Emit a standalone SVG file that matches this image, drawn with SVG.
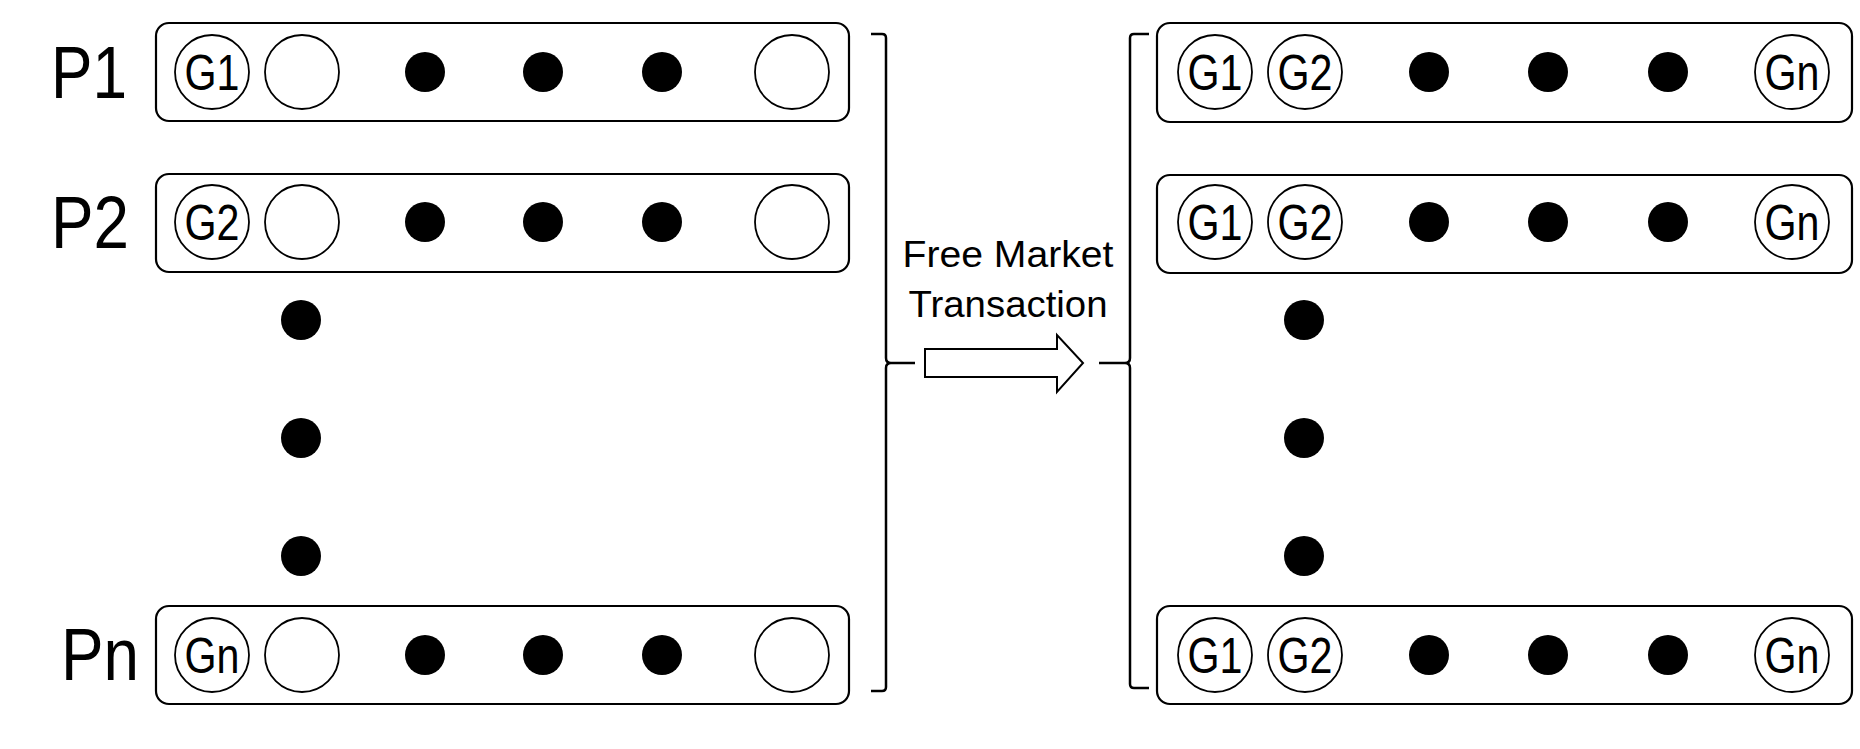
<svg xmlns="http://www.w3.org/2000/svg" width="1860" height="749" viewBox="0 0 1860 749">
<style>
.box{fill:#fff;stroke:#000;stroke-width:2.2}
.c{fill:#fff;stroke:#000;stroke-width:1.8}
.d{fill:#000}
.g{font-family:"Liberation Sans",Arial,sans-serif;font-size:50px;fill:#000;text-anchor:middle}
.p{font-family:"Liberation Sans",Arial,sans-serif;font-size:75px;fill:#000}
.t{font-family:"Liberation Sans",Arial,sans-serif;font-size:37px;fill:#000;text-anchor:middle}
.br{fill:none;stroke:#000;stroke-width:2.5}
</style>
<g id="label-p1"><text class="p" x="51" y="98" textLength="76" lengthAdjust="spacingAndGlyphs">P1</text></g>
<g id="label-p2"><text class="p" x="51" y="248" textLength="78" lengthAdjust="spacingAndGlyphs">P2</text></g>
<g id="label-pn"><text class="p" x="61" y="680" textLength="78" lengthAdjust="spacingAndGlyphs">Pn</text></g>

<g id="left-row1">
<rect class="box" x="156" y="23" width="693" height="98" rx="13"/>
<circle class="c" cx="212" cy="72" r="37"/>
<text class="g" x="212" y="90" textLength="55" lengthAdjust="spacingAndGlyphs">G1</text>
<circle class="c" cx="302" cy="72" r="37"/>
<circle class="d" cx="425" cy="72" r="20"/>
<circle class="d" cx="543" cy="72" r="20"/>
<circle class="d" cx="662" cy="72" r="20"/>
<circle class="c" cx="792" cy="72" r="37"/>
</g>
<g id="left-row2">
<rect class="box" x="156" y="174" width="693" height="98" rx="13"/>
<circle class="c" cx="212" cy="222" r="37"/>
<text class="g" x="212" y="240" textLength="55" lengthAdjust="spacingAndGlyphs">G2</text>
<circle class="c" cx="302" cy="222" r="37"/>
<circle class="d" cx="425" cy="222" r="20"/>
<circle class="d" cx="543" cy="222" r="20"/>
<circle class="d" cx="662" cy="222" r="20"/>
<circle class="c" cx="792" cy="222" r="37"/>
</g>
<g id="left-vdots">
<circle class="d" cx="301" cy="320" r="20"/>
<circle class="d" cx="301" cy="438" r="20"/>
<circle class="d" cx="301" cy="556" r="20"/>
</g>
<g id="left-rown">
<rect class="box" x="156" y="606" width="693" height="98" rx="13"/>
<circle class="c" cx="212" cy="655" r="37"/>
<text class="g" x="212" y="673" textLength="55" lengthAdjust="spacingAndGlyphs">Gn</text>
<circle class="c" cx="302" cy="655" r="37"/>
<circle class="d" cx="425" cy="655" r="20"/>
<circle class="d" cx="543" cy="655" r="20"/>
<circle class="d" cx="662" cy="655" r="20"/>
<circle class="c" cx="792" cy="655" r="37"/>
</g>

<g id="right-row1">
<rect class="box" x="1157" y="23" width="695" height="99" rx="13"/>
<circle class="c" cx="1215" cy="72" r="37"/>
<text class="g" x="1215" y="90" textLength="55" lengthAdjust="spacingAndGlyphs">G1</text>
<circle class="c" cx="1305" cy="72" r="37"/>
<text class="g" x="1305" y="90" textLength="55" lengthAdjust="spacingAndGlyphs">G2</text>
<circle class="d" cx="1429" cy="72" r="20"/>
<circle class="d" cx="1548" cy="72" r="20"/>
<circle class="d" cx="1668" cy="72" r="20"/>
<circle class="c" cx="1792" cy="72" r="37"/>
<text class="g" x="1792" y="90" textLength="55" lengthAdjust="spacingAndGlyphs">Gn</text>
</g>
<g id="right-row2">
<rect class="box" x="1157" y="175" width="695" height="98" rx="13"/>
<circle class="c" cx="1215" cy="222" r="37"/>
<text class="g" x="1215" y="240" textLength="55" lengthAdjust="spacingAndGlyphs">G1</text>
<circle class="c" cx="1305" cy="222" r="37"/>
<text class="g" x="1305" y="240" textLength="55" lengthAdjust="spacingAndGlyphs">G2</text>
<circle class="d" cx="1429" cy="222" r="20"/>
<circle class="d" cx="1548" cy="222" r="20"/>
<circle class="d" cx="1668" cy="222" r="20"/>
<circle class="c" cx="1792" cy="222" r="37"/>
<text class="g" x="1792" y="240" textLength="55" lengthAdjust="spacingAndGlyphs">Gn</text>
</g>
<g id="right-vdots">
<circle class="d" cx="1304" cy="320" r="20"/>
<circle class="d" cx="1304" cy="438" r="20"/>
<circle class="d" cx="1304" cy="556" r="20"/>
</g>
<g id="right-rown">
<rect class="box" x="1157" y="606" width="695" height="98" rx="13"/>
<circle class="c" cx="1215" cy="655" r="37"/>
<text class="g" x="1215" y="673" textLength="55" lengthAdjust="spacingAndGlyphs">G1</text>
<circle class="c" cx="1305" cy="655" r="37"/>
<text class="g" x="1305" y="673" textLength="55" lengthAdjust="spacingAndGlyphs">G2</text>
<circle class="d" cx="1429" cy="655" r="20"/>
<circle class="d" cx="1548" cy="655" r="20"/>
<circle class="d" cx="1668" cy="655" r="20"/>
<circle class="c" cx="1792" cy="655" r="37"/>
<text class="g" x="1792" y="673" textLength="55" lengthAdjust="spacingAndGlyphs">Gn</text>
</g>

<g id="connectors">
<path class="br" d="M871,34 L882,34 Q886,34 886,38 L886,358 Q886,363 891,363 L915,363 M891,363 Q886,363 886,368 L886,687 Q886,691 882,691 L871,691"/>
<path class="br" d="M1149,34 L1134,34 Q1130,34 1130,38 L1130,358 Q1130,363 1125,363 L1099,363 M1125,363 Q1130,363 1130,368 L1130,684 Q1130,688 1134,688 L1149,688"/>
<polygon points="925,349 1057,349 1057,335 1083,363 1057,392 1057,377 925,377" fill="#fff" stroke="#000" stroke-width="2"/>
</g>
<g id="label-transaction">
<text class="t" x="1008" y="267" textLength="211" lengthAdjust="spacingAndGlyphs">Free Market</text>
<text class="t" x="1008" y="317" textLength="199" lengthAdjust="spacingAndGlyphs">Transaction</text>
</g>
</svg>
